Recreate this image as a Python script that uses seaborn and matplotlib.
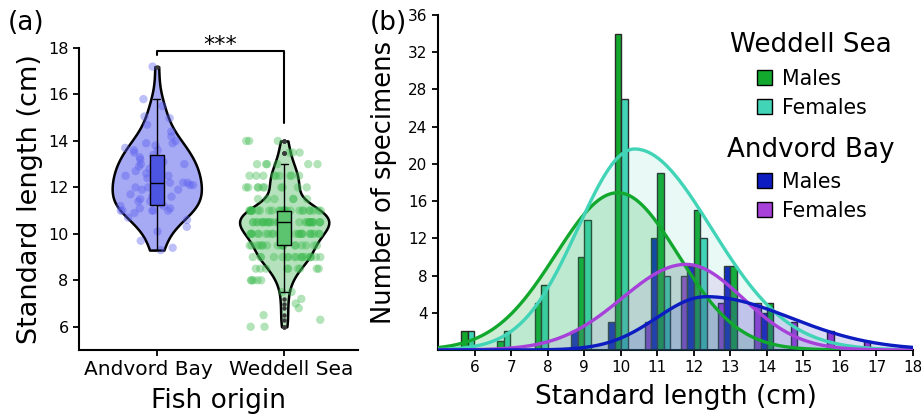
import numpy as np
import pandas as pd
import matplotlib
matplotlib.use("Agg")
import matplotlib.pyplot as plt
import matplotlib.transforms as mtransforms
import seaborn as sns
from matplotlib.patches import Patch

# ---------------- data: panel (a) ----------------
origins = ["Andvord Bay", "Weddell Sea"]
andvord_lengths = [9.3, 9.4, 9.7, 10.1, 10.3,
                   10.6, 10.7, 10.9, 11.0, 11.0, 11.0, 11.0, 11.0, 11.1, 11.1, 11.2, 11.2, 11.3, 11.4, 11.4,
                   11.5, 11.6, 11.6, 11.7, 11.8, 11.9, 11.9, 12.0, 12.0, 12.1, 12.1, 12.2, 12.2, 12.2, 12.4, 12.5, 12.5,
                   12.6, 12.6, 12.7, 12.8, 12.8, 12.9, 13.0, 13.0, 13.0, 13.1, 13.2, 13.3, 13.4, 13.5,
                   13.6, 13.6, 13.7, 13.8, 13.9, 13.9, 14.0, 14.2, 14.4,
                   14.7, 14.98, 15.05, 15.5, 15.8, 17.2]
weddell_values = [6.0, 6.3, 6.5, 6.8, 7.0, 7.2, 7.5, 8.0, 8.5, 9.0, 9.5, 10.0, 10.5, 11.0, 11.5, 12.0, 12.5, 13.0, 13.5, 14.0]
weddell_counts = [2, 1, 1, 1, 1, 1, 2, 5, 9, 18, 18, 24, 32, 27, 6, 10, 9, 6, 3, 3]
signif_label = "***"

# ---------------- data: panel (b) ----------------
bin_centers = [5.63, 6.62, 7.64, 8.82, 9.83, 11.0, 12.0, 13.0, 14.0, 15.0, 16.0, 17.0]
andvord_females = [0, 0, 0, 0, 0, 3, 8, 5, 5, 3, 2, 1]
andvord_males = [0, 0, 0, 2, 3, 12, 9, 9, 4, 0, 0, 0]
weddell_males = [2, 1, 5, 10, 34, 19, 15, 9, 5, 0, 0, 0]
weddell_females = [2, 2, 7, 14, 27, 8, 12, 0, 0, 0, 0, 0]
# fitted curves: peak position, peak height, left / right spread
fit_names = ["Weddell males", "Weddell females", "Andvord females", "Andvord males"]
fit_mean = [9.92, 10.38, 11.79, 12.34]
fit_peak = [16.9, 21.6, 9.2, 5.73]
fit_sd_left = [1.7, 1.55, 1.75, 1.35]
fit_sd_right = [1.65, 2.1, 1.55, 2.3]

x_ticks_b = list(range(6, 19))
y_ticks_b = list(range(4, 37, 4))
y_ticks_a = list(range(6, 19, 2))

# ---------------- style ----------------
sns.set_theme(style="ticks")
plt.rcParams["font.family"] = ["DejaVu Sans"]
for k in ["text.color", "axes.labelcolor", "xtick.color", "ytick.color", "axes.edgecolor"]:
    plt.rcParams[k] = "black"
plt.rcParams["axes.linewidth"] = 1.5
plt.rcParams["xtick.major.width"] = 1.3
plt.rcParams["ytick.major.width"] = 1.3
plt.rcParams["xtick.major.size"] = 4
plt.rcParams["ytick.major.size"] = 4

C_GREEN = "#12a82e"
C_CYAN = "#42d4b6"
C_BLUE = "#0c1cc0"
C_PURPLE = "#a840da"

fig = plt.figure(figsize=(9.21, 4.2), dpi=100)
ax1 = fig.add_axes([0.0858, 0.1667, 0.303, 0.719])
ax2 = fig.add_axes([0.4756, 0.1667, 0.5157, 0.7976])

# ---------------- panel (a) ----------------
weddell_lengths = np.repeat(weddell_values, weddell_counts)
df = pd.DataFrame({
    "origin": [origins[0]] * len(andvord_lengths) + [origins[1]] * len(weddell_lengths),
    "length": list(andvord_lengths) + list(weddell_lengths),
})

violin_pal = {origins[0]: "#a6a9f3", origins[1]: "#b5e2bc"}
point_pal = {origins[0]: "#5a5ff0", origins[1]: "#3fbb52"}
box_pal = {origins[0]: "#4c55e2", origins[1]: "#5cc46e"}

for org, bw in zip(origins, [1.0, 0.8]):
    sub = df[df["origin"] == org]
    sns.violinplot(data=sub, x="origin", y="length", order=origins, hue="origin",
                   palette=violin_pal, legend=False, inner=None, cut=0,
                   density_norm="width", width=0.7, linewidth=1.8, linecolor="black",
                   saturation=1, bw_adjust=bw, ax=ax1)

np.random.seed(3)
sns.stripplot(data=df, x="origin", y="length", order=origins, hue="origin",
              palette=point_pal, legend=False, jitter=0.3, size=6, alpha=0.4,
              linewidth=0, ax=ax1, zorder=2)
sns.boxplot(data=df, x="origin", y="length", order=origins, hue="origin",
            palette=box_pal, legend=False, width=0.11, linewidth=1.0, linecolor="black",
            saturation=1, fliersize=2.2,
            flierprops=dict(marker="o", markerfacecolor="#3a3a3a", markeredgecolor="#3a3a3a"),
            ax=ax1, zorder=3)

ax1.set_xlim(-0.61, 1.58)
ax1.set_ylim(5, 18)
ax1.set_yticks(y_ticks_a)
ax1.tick_params(axis="y", labelsize=11.5, direction="out")
ax1.tick_params(axis="x", labelsize=14.5, direction="out")
ax1.set_xlabel("Fish origin", fontsize=19, labelpad=6)
ax1.set_ylabel("Standard length (cm)", fontsize=19.5, labelpad=4)
sns.despine(ax=ax1)
for lab, dx in zip(ax1.get_xticklabels(), [-8, 7]):
    lab.set_transform(lab.get_transform() +
                      mtransforms.ScaledTranslation(dx / 100, 0, fig.dpi_scale_trans))

# significance bracket
ax1.plot([0, 0, 1, 1], [17.7, 17.87, 17.87, 14.77], color="black", lw=1.5, clip_on=False)
ax1.text(0.5, 17.7, signif_label, ha="center", va="bottom", fontsize=16)

fig.text(0.008, 0.975, "(a)", fontsize=19, ha="left", va="top")
fig.text(0.401, 0.975, "(b)", fontsize=19, ha="left", va="top")

# ---------------- panel (b) ----------------
bw_bar = 0.175
series = [
    (andvord_females, -0.26, C_PURPLE),
    (andvord_males, -0.085, C_BLUE),
    (weddell_males, 0.09, C_GREEN),
    (weddell_females, 0.27, C_CYAN),
]
centers = np.array(bin_centers)
for counts, off, col in series:
    counts = np.array(counts)
    keep = counts > 0
    ax2.bar(centers[keep] + off, counts[keep], width=bw_bar, color=col,
            edgecolor="#2a2a2a", linewidth=1.0, zorder=2)

xs = np.linspace(5, 18, 600)
curve_cols = [C_GREEN, C_CYAN, C_PURPLE, C_BLUE]
fill_alpha = [0.2, 0.12, 0.12, 0.15]
for mu, pk, sl, sr, col, fa in zip(fit_mean, fit_peak, fit_sd_left, fit_sd_right, curve_cols, fill_alpha):
    sd = np.where(xs < mu, sl, sr)
    ys = pk * np.exp(-(xs - mu) ** 2 / (2 * sd ** 2))
    ax2.fill_between(xs, 0, ys, color=col, alpha=fa, linewidth=0, zorder=3)
    sns.lineplot(x=xs, y=ys, color=col, linewidth=2.4, ax=ax2, zorder=4)

ax2.set_xlim(5, 18)
ax2.set_ylim(0, 36)
ax2.set_xticks(x_ticks_b)
ax2.set_yticks(y_ticks_b)
ax2.tick_params(axis="both", labelsize=11, direction="out")
ax2.set_xlabel("Standard length (cm)", fontsize=19, labelpad=6)
ax2.set_ylabel("Number of specimens", fontsize=18.5, labelpad=8)
sns.despine(ax=ax2)

# legend: group titles as text, entries as legends
fig.text(811 / 921, 1 - 45 / 420, "Weddell Sea", fontsize=18.8, ha="center", va="center")
fig.text(811 / 921, 1 - 150 / 420, "Andvord Bay", fontsize=18.8, ha="center", va="center")
leg_kw = dict(loc="upper left", bbox_transform=fig.transFigure, frameon=False,
              fontsize=14.8, handlelength=0.75, handleheight=0.75,
              handletextpad=0.45, labelspacing=0.42, borderpad=0, borderaxespad=0)
leg1 = ax2.legend(handles=[Patch(facecolor=C_GREEN, edgecolor="black"),
                           Patch(facecolor=C_CYAN, edgecolor="black")],
                  labels=["Males", "Females"],
                  bbox_to_anchor=(757 / 921, 1 - 69 / 420), **leg_kw)
ax2.add_artist(leg1)
ax2.legend(handles=[Patch(facecolor=C_BLUE, edgecolor="black"),
                    Patch(facecolor=C_PURPLE, edgecolor="black")],
           labels=["Males", "Females"],
           bbox_to_anchor=(757 / 921, 1 - 172 / 420), **leg_kw)

fig.savefig("out.png", dpi=100)
